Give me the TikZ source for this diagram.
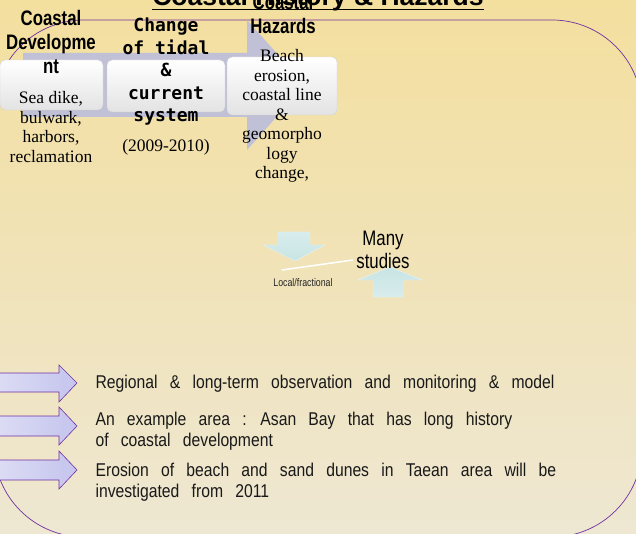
\documentclass[tikz,border=0pt]{standalone}
\usepackage{fontspec}
\setmainfont{Liberation Serif}
\setsansfont{Liberation Sans}
\newfontfamily\narrowsans[FakeStretch=0.8]{Liberation Sans}
\newfontfamily\pointfont[FakeStretch=0.85,WordSpace=2.8]{Liberation Sans}
\newfontfamily\monobold{DejaVu Sans Mono}

\definecolor{sandtop}{RGB}{243,223,158}
\definecolor{sandbot}{RGB}{238,231,210}
\definecolor{framecol}{RGB}{112,48,160}
\definecolor{lilac}{RGB}{196,196,238}
\definecolor{chevron}{RGB}{192,192,214}
\definecolor{icefill}{RGB}{200,228,228}

\tikzset{
  stagebox/.style={rounded corners=5pt, draw=gray!35, top color=white, bottom color=gray!22},
  stagehead/.style={font=\narrowsans\bfseries\fontsize{21}{24}\selectfont, align=center},
  stagetext/.style={font=\fontsize{17.5}{19.5}\selectfont, align=center},
  pointarrow/.style={draw=framecol, line width=0.6pt, left color=lilac!60, right color=lilac},
  pointtext/.style={font=\pointfont\fontsize{18.5}{21}\selectfont, anchor=west, align=left, text=black!90},
}

\begin{document}
\begin{tikzpicture}[x=1pt,y=-1pt]
\shade[top color=sandtop, bottom color=sandbot] (0,0) rectangle (636,534);
\useasboundingbox (0,0) rectangle (636,534);

% outer frame
\draw[framecol, line width=0.7pt, rounded corners=90pt] (-6,20) rectangle (642,537);

% big chevron behind the stages
\fill[chevron] (23,53) -- (247,53) -- (247,20) -- (305,85) -- (247,150) -- (247,117) -- (23,117) -- cycle;

\node[stagebox, minimum width=103pt, minimum height=50pt] (devbox) at (51.5,85) {};
\node[stagebox, minimum width=118pt, minimum height=52pt] (tidebox) at (166,86) {};
\node[stagebox, minimum width=110pt, minimum height=58pt] (hazbox) at (282,86) {};

% title
\node[font=\sffamily\bfseries\fontsize{26.5}{30}\selectfont, inner sep=0pt, anchor=base] (title) at (318,6) {Coastal History \& Hazards};
\draw[line width=1.8pt] ([yshift=-3.5pt]title.base west) -- ([yshift=-3.5pt]title.base east);

% stage texts
\node[stagehead] (devhead) at (51,42) {Coastal\\Developme\\nt};
\node[stagetext] (devtext) at (51,127) {Sea dike,\\bulwark,\\harbors,\\reclamation};
\node[font=\monobold\bfseries\fontsize{18}{22.5}\selectfont, align=center] (tidehead) at (166,72) {Change\\of tidal\\\&\\current\\system};
\node[stagetext] (tideyears) at (166,147) {(2009-2010)};
\node[stagehead] (hazhead) at (283,14) {Coastal\\Hazards};
\node[stagetext] (haztext) at (282,116) {Beach\\erosion,\\coastal line\\\&\\geomorpho\\logy\\change,};

% local / many studies
\shade[top color=icefill!70, bottom color=icefill, draw=white!60!icefill] (278,232) -- (310,232) -- (310,245) -- (325,245) -- (295,261) -- (263,245) -- (278,245) -- cycle;
\shade[top color=icefill, bottom color=icefill!70, draw=white!60!icefill] (373,297) -- (403,297) -- (403,280) -- (422,280) -- (390,267) -- (358,280) -- (373,280) -- cycle;
\coordinate (lineA) at (282,270);
\coordinate (lineB) at (353,260);
\draw[white, line width=1.5pt] (lineA) -- (lineB);
\node[font=\narrowsans\fontsize{21}{23}\selectfont, align=center] (many) at (383,250) {Many\\studies};
\node[font=\narrowsans\fontsize{11}{13}\selectfont, text=black!85] (local) at (303,283) {Local/fractional};

% bottom points
\draw[pointarrow] (-2,373) -- (59,373) -- (59,365) -- (77,383) -- (59,402) -- (59,392) -- (-2,392) -- cycle;
\draw[pointarrow] (-2,416) -- (59,416) -- (59,407) -- (77,426) -- (59,445) -- (59,436) -- (-2,436) -- cycle;
\draw[pointarrow] (-2,460) -- (59,460) -- (59,451) -- (77,470) -- (59,489) -- (59,480) -- (-2,480) -- cycle;

\node[pointtext] (regional) at (92,384) {Regional \& long-term observation and monitoring \& model};
\node[pointtext] (asan) at (92,431) {An example area : Asan Bay that has long history\\of coastal development};
\node[pointtext] (taean) at (92,482) {Erosion of beach and sand dunes in Taean area will be\\investigated from 2011};

\end{tikzpicture}
\end{document}
